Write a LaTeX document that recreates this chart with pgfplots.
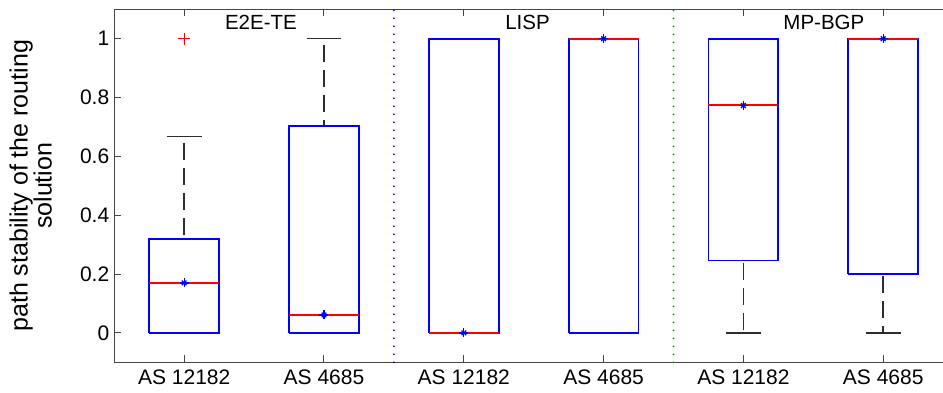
\documentclass[border=0pt]{standalone}
\usepackage{fontspec}
\setmainfont{Liberation Sans}
\usepackage{pgfplots}
\pgfplotsset{compat=1.18}
\definecolor{mblue}{RGB}{0,0,255}
\definecolor{mred}{RGB}{255,0,0}
\definecolor{mgreen}{RGB}{0,150,0}
\definecolor{axgray}{RGB}{70,70,70}
\definecolor{wgray}{RGB}{45,45,45}
\begin{document}
\begin{tikzpicture}
\begin{axis}[
  at={(0,0)}, anchor=south west,
  scale only axis, width=838.8pt, height=353pt,
  xmin=0.5, xmax=6.5, ymin=-0.1, ymax=1.1,
  xtick={1,2,3,4,5,6},
  xticklabels={AS 12182, AS 4685, AS 12182, AS 4685, AS 12182, AS 4685},
  ytick={0,0.2,0.4,0.6,0.8,1},
  tick align=inside,
  major tick length=7pt,
  axis line style={axgray, line width=1.2pt},
  every tick/.style={axgray, line width=1pt},
  tick label style={font=\fontsize{21}{24}\selectfont, text=black},
  /pgf/number format/assume math mode=true,
  xticklabel style={yshift=-4pt},
  yticklabel style={xshift=-1.5pt},
  ylabel={path stability of the routing\\solution},
  ylabel style={at={(axis description cs:0,0.5)}, anchor=south, yshift=62.3pt, inner sep=0pt, align=center, font=\fontsize{25}{24}\selectfont},
  clip=false,
]
% separators
\addplot[mblue, line width=2pt, line cap=round, dash pattern=on 0pt off 8pt] coordinates {(2.5,-0.1) (2.5,1.1)};
\addplot[mgreen, line width=2pt, line cap=round, dash pattern=on 0pt off 8pt] coordinates {(4.5,-0.1) (4.5,1.1)};
% whiskers (dashed)
\addplot[wgray, line width=1.5pt, dash pattern=on 17pt off 8pt, dash phase=-6pt] coordinates {(1,0.667) (1,0.32)};
\addplot[wgray, line width=1.5pt, dash pattern=on 17pt off 8pt, dash phase=-6pt] coordinates {(2,1) (2,0.703)};
\addplot[wgray, line width=1.5pt, dash pattern=on 17pt off 8pt, dash phase=-2pt] coordinates {(5,0.246) (5,0)};
\addplot[wgray, line width=1.5pt, dash pattern=on 17pt off 8pt, dash phase=-2pt] coordinates {(6,0.2) (6,0)};
% whisker caps
\addplot[wgray, line width=1.5pt] coordinates {(0.875,0.667) (1.125,0.667)};
\addplot[wgray, line width=1.5pt] coordinates {(1.875,1) (2.125,1)};
\addplot[wgray, line width=1.5pt] coordinates {(4.875,0) (5.125,0)};
\addplot[wgray, line width=1.5pt] coordinates {(5.875,0) (6.125,0)};
% boxes (Q1 -> Q3)
\addplot[mblue, line width=1.8pt] coordinates {(0.75,0) (1.25,0) (1.25,0.32) (0.75,0.32) (0.75,0)};
\addplot[mblue, line width=1.8pt] coordinates {(1.75,0) (2.25,0) (2.25,0.703) (1.75,0.703) (1.75,0)};
\addplot[mblue, line width=1.8pt] coordinates {(2.75,0) (3.25,0) (3.25,1) (2.75,1) (2.75,0)};
\addplot[mblue, line width=1.8pt] coordinates {(3.75,0) (4.25,0) (4.25,1) (3.75,1) (3.75,0)};
\addplot[mblue, line width=1.8pt] coordinates {(4.75,0.246) (5.25,0.246) (5.25,1) (4.75,1) (4.75,0.246)};
\addplot[mblue, line width=1.8pt] coordinates {(5.75,0.2) (6.25,0.2) (6.25,1) (5.75,1) (5.75,0.2)};
% medians
\addplot[mred, line width=2pt] coordinates {(0.75,0.17) (1.25,0.17)};
\addplot[mred, line width=2pt] coordinates {(1.75,0.061) (2.25,0.061)};
\addplot[mred, line width=2pt] coordinates {(2.75,0) (3.25,0)};
\addplot[mred, line width=2pt] coordinates {(3.75,1) (4.25,1)};
\addplot[mred, line width=2pt] coordinates {(4.75,0.773) (5.25,0.773)};
\addplot[mred, line width=2pt] coordinates {(5.75,1) (6.25,1)};
% outlier
\addplot[only marks, mred, mark=+, mark size=6pt, line width=1.2pt] coordinates {(1,1)};
% means
\addplot[only marks, mblue, mark=+, mark size=4.5pt, line width=1.3pt] coordinates {(1,0.17) (2,0.061) (3,0) (4,1) (5,0.773) (6,1)};
\addplot[only marks, mblue, mark=x, mark size=3.3pt, line width=1.3pt] coordinates {(1,0.17) (2,0.061) (3,0) (4,1) (5,0.773) (6,1)};
% group titles
\node[font=\fontsize{20.5}{24}\selectfont] at (axis cs:1.549,1.057) {E2E-TE};
\node[font=\fontsize{20.5}{24}\selectfont] at (axis cs:3.456,1.057) {LISP};
\node[font=\fontsize{20.5}{24}\selectfont] at (axis cs:5.576,1.057) {MP-BGP};
\end{axis}
\pgfresetboundingbox
\path[use as bounding box] (-114.3pt,-30.7pt) rectangle (828.7pt,362.3pt);
\end{tikzpicture}
\end{document}
